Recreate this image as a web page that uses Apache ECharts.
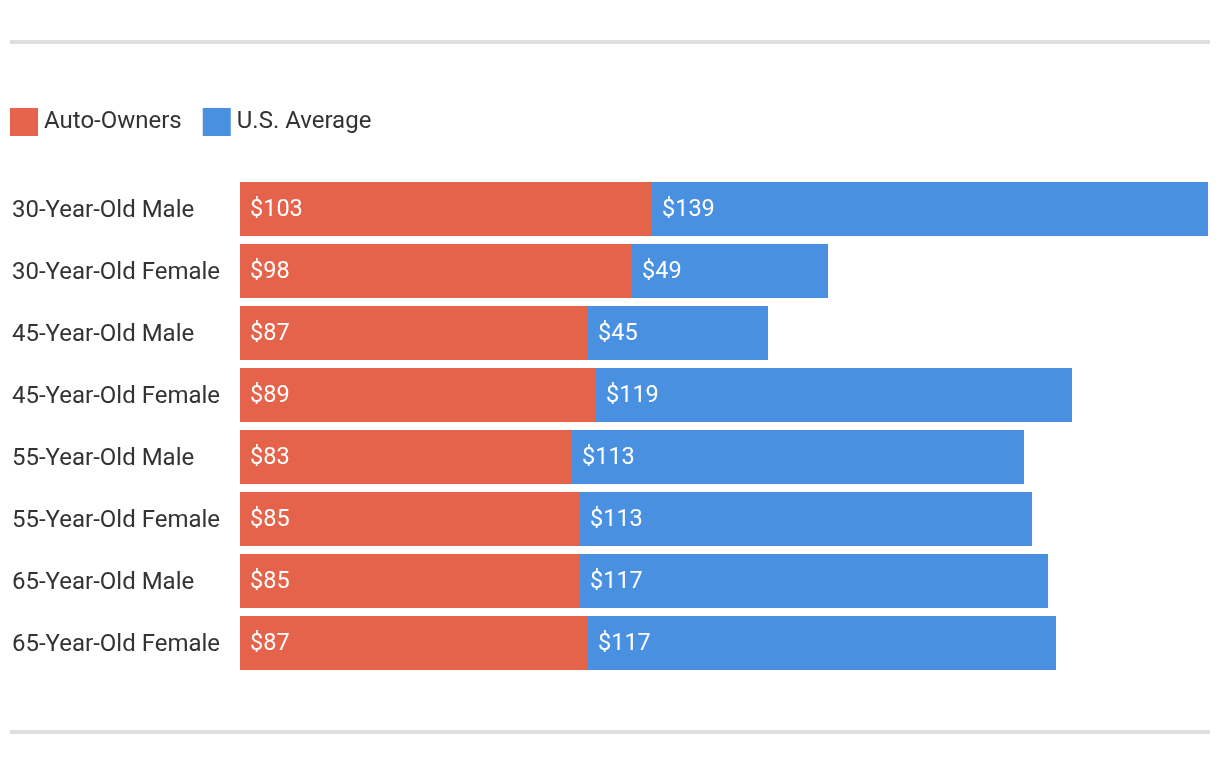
<!DOCTYPE html>
<html>
<head>
<meta charset="utf-8">
<script src="https://cdn.jsdelivr.net/npm/echarts@6/dist/echarts.min.js"></script>
<style>
html,body{margin:0;padding:0;background:#fff;}
#chart{width:1220px;height:766px;}
</style>
</head>
<body>
<div id="chart"></div>
<script>
const categories = ["30-Year-Old Male","30-Year-Old Female","45-Year-Old Male","45-Year-Old Female","55-Year-Old Male","55-Year-Old Female","65-Year-Old Male","65-Year-Old Female"];
const autoOwners = [103, 98, 87, 89, 83, 85, 85, 87];
const usAverage = [139, 49, 45, 119, 113, 113, 117, 117];
const seriesNames = ["Auto-Owners", "U.S. Average"];

const chart = echarts.init(document.getElementById('chart'));
const font = 'Roboto, "Noto Sans", sans-serif';
const labelCfg = {
  show: true,
  position: 'insideLeft',
  distance: 10,
  offset: [0, 1],
  color: '#fff',
  fontSize: 23.5,
  fontFamily: font,
  formatter: p => '$' + p.value
};
chart.setOption({
  animation: false,
  textStyle: {fontFamily: font},
  graphic: [
    {type: 'rect', shape: {x: 10, y: 40, width: 1200, height: 4}, style: {fill: '#dedede'}},
    {type: 'rect', shape: {x: 10, y: 730, width: 1200, height: 4}, style: {fill: '#dedede'}}
  ],
  legend: {
    left: 5,
    top: 103,
    itemWidth: 28,
    itemHeight: 28,
    itemGap: 21,
    icon: 'rect',
    textStyle: {fontSize: 24, color: '#333', fontFamily: font, padding: [0, 0, 0, 1]},
    data: seriesNames
  },
  grid: {left: 240, top: 178, width: 968, height: 496, containLabel: false},
  xAxis: {
    type: 'value', min: 0, max: 242, show: false
  },
  yAxis: {
    type: 'category',
    data: categories,
    inverse: true,
    axisLine: {show: false},
    axisTick: {show: false},
    axisLabel: {
      align: 'left', margin: 228, fontSize: 24, color: '#333', fontFamily: font,
      formatter: v => '{a|' + v + '}',
      rich: {a: {fontSize: 24, color: '#333', fontFamily: font, padding: [4, 0, 0, 0]}}
    }
  },
  series: [
    {name: seriesNames[0], type: 'bar', stack: 'total', data: autoOwners, barCategoryGap: '12.9%',
     itemStyle: {color: '#E5634A'}, label: labelCfg},
    {name: seriesNames[1], type: 'bar', stack: 'total', data: usAverage, barCategoryGap: '12.9%',
     itemStyle: {color: '#4A90E1'}, label: labelCfg}
  ]
});
</script>
</body>
</html>
